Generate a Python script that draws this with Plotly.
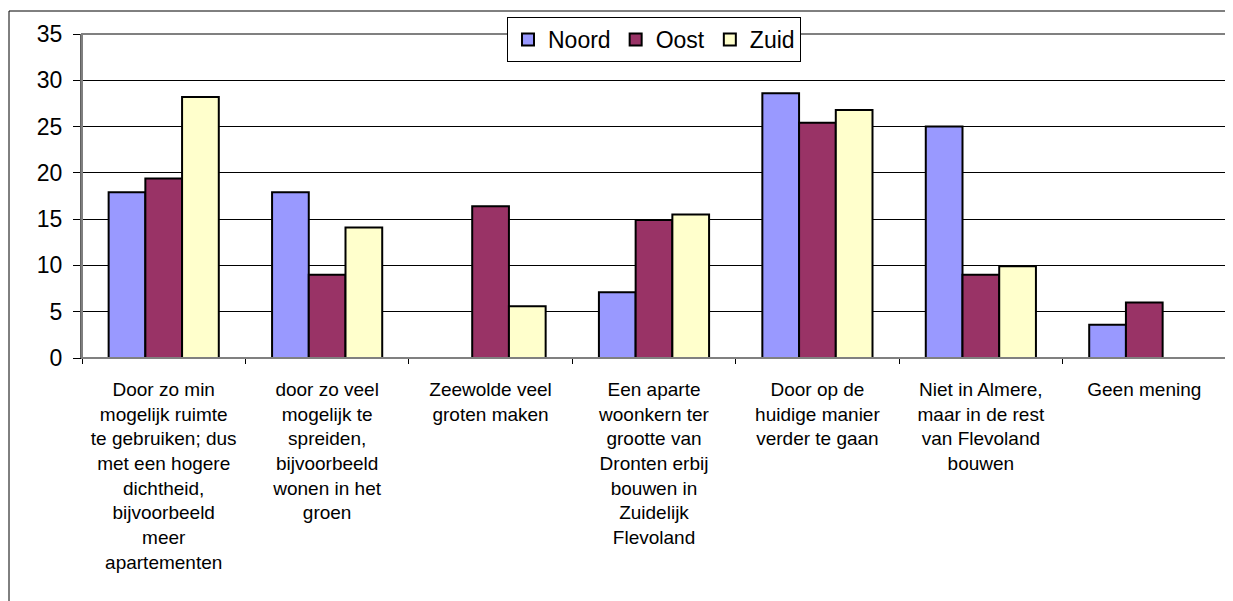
import plotly.graph_objects as go

categories = ["c1", "c2", "c3", "c4", "c5", "c6", "c7"]
tick_labels = [
    "Door zo min<br>mogelijk ruimte<br>te gebruiken; dus<br>met een hogere<br>dichtheid,<br>bijvoorbeeld<br>meer<br>apartementen",
    "door zo veel<br>mogelijk te<br>spreiden,<br>bijvoorbeeld<br>wonen in het<br>groen",
    "Zeewolde veel<br>groten maken",
    "Een aparte<br>woonkern ter<br>grootte van<br>Dronten erbij<br>bouwen in<br>Zuidelijk<br>Flevoland",
    "Door op de<br>huidige manier<br>verder te gaan",
    "Niet in Almere,<br>maar in de rest<br>van Flevoland<br>bouwen",
    "Geen mening",
]
noord = [17.9, 17.9, 0, 7.1, 28.6, 25.0, 3.6]
oost = [19.4, 9.0, 16.4, 14.9, 25.4, 9.0, 6.0]
zuid = [28.2, 14.1, 5.6, 15.5, 26.8, 9.9, 0]

series = [("Noord", noord, "#9999FF"), ("Oost", oost, "#993366"), ("Zuid", zuid, "#FFFFCC")]

# page has an 8px body margin; figure coordinates are page coordinates minus 8
OFF = 8
W, H = 1233, 601
L, T = 82 - OFF, 34 - OFF
R = W - (1226 - OFF)
B = H - (358 - OFF)
pw, ph = W - L - R, H - T - B
y_axis_px = 358 - OFF

fig = go.Figure()
for name, vals, col in series:
    fig.add_trace(go.Bar(
        x=categories, y=vals, name=name,
        marker=dict(color=col, line=dict(color="black", width=2)),
    ))

font = "Liberation Sans, Arial, sans-serif"
fig.update_layout(
    width=W, height=H,
    margin=dict(l=L, r=R, t=T, b=B, autoexpand=False),
    paper_bgcolor="white", plot_bgcolor="white",
    barmode="group", bargap=0.326, bargroupgap=0,
    font=dict(family=font, color="black"),
    showlegend=True,
    legend=dict(
        orientation="h", x=0.5, xanchor="center",
        y=(y_axis_px - (17 - OFF)) / ph, yanchor="top",
        bgcolor="white", bordercolor="black", borderwidth=1,
        font=dict(size=23, family=font), itemwidth=30, tracegroupgap=0,
    ),
    xaxis=dict(
        tickmode="array", tickvals=categories, ticktext=tick_labels,
        tickson="boundaries", ticks="outside", ticklen=5, tickcolor="black",
        showline=True, linecolor="black", linewidth=1,
        tickfont=dict(size=19, family=font), ticklabelstandoff=14,
        showgrid=False, fixedrange=True, automargin=False,
    ),
    yaxis=dict(
        range=[0, 35], dtick=5, ticks="outside", ticklen=7, tickcolor="black",
        showline=True, linecolor="#606060", linewidth=2,
        showgrid=True, gridcolor="black", gridwidth=1,
        tickfont=dict(size=23, family=font), ticklabelstandoff=6,
        zeroline=False, automargin=False,
    ),
    shapes=[
        dict(type="rect", xref="paper", yref="paper", x0=0, x1=1, y0=0, y1=1,
             line=dict(color="#808080", width=2), layer="above"),
        dict(type="rect", xref="paper", yref="paper",
             x0=(9 - OFF - L) / pw, x1=(W + 20 - L) / pw,
             y0=(y_axis_px - (H + 20)) / ph, y1=(y_axis_px - (11 - OFF)) / ph,
             line=dict(color="black", width=1)),
    ],
)

fig.write_html("out.html")
